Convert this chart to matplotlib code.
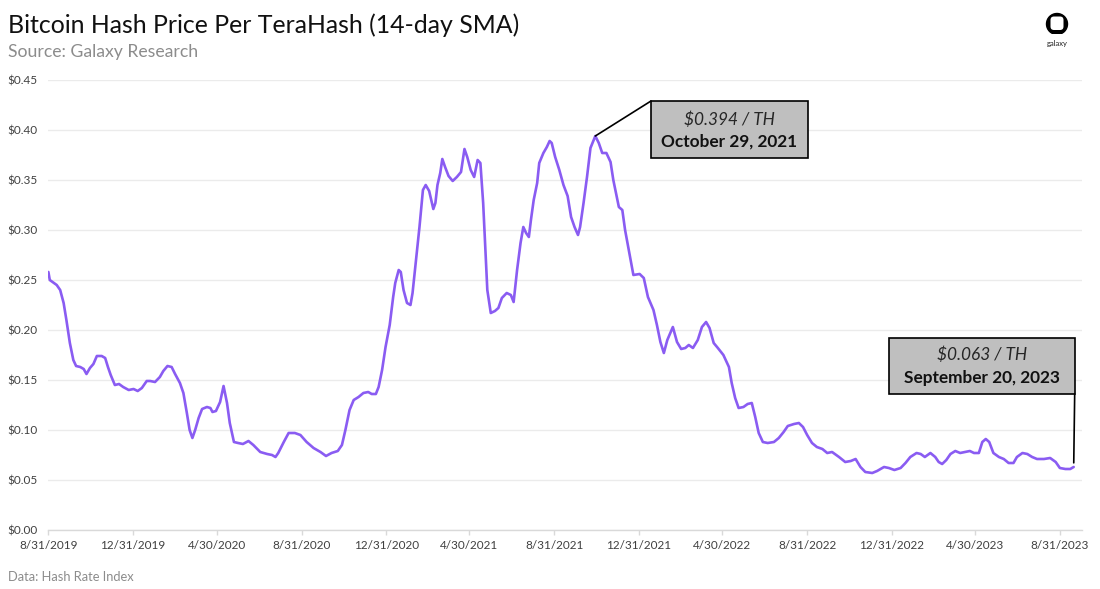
import matplotlib
matplotlib.use('Agg')
import matplotlib.pyplot as plt
import matplotlib.dates as mdates
from matplotlib.patches import Rectangle, Circle, FancyBboxPatch, ConnectionPatch
from matplotlib.ticker import FuncFormatter
import pandas as pd

plt.rcParams['font.family'] = ['Lato', 'DejaVu Sans']

# ---------------- data ----------------
START = '2019-08-31'
day_offset = [0, 2, 12, 17, 22, 26, 31, 36, 40, 46, 51, 55, 60, 65, 70, 77, 82, 86, 90, 96, 102, 108, 116, 123, 129,
              135, 142, 147, 154, 161, 166, 172, 178, 183, 190, 195, 200, 204, 208, 212, 217, 222, 229, 234, 237, 242,
              248, 253, 258, 262, 268, 274, 281,
              289, 296, 306, 316, 323, 328, 332, 340, 347, 356, 364, 373, 383, 393, 401, 409, 418, 424, 429, 435, 441,
              448, 455, 462, 467, 473, 477, 482, 487, 493, 498, 501, 506, 509, 513, 518, 523, 526, 531, 536, 541, 545,
              550, 553, 556, 559, 562, 566, 569, 573, 578,
              584, 590, 596, 601, 605, 610, 615, 620, 624, 628, 631, 634, 639, 645, 650, 655, 662, 668, 672, 677, 682,
              686, 690, 694, 697, 701, 706, 709, 715, 720, 724, 727, 732, 738, 744, 750, 755, 760, 765, 768, 773, 778,
              783, 790, 795, 800, 806, 812, 816, 824, 829, 833, 841, 845, 854, 860,
              866, 874, 879, 884, 889, 894, 902, 908, 914, 920, 925, 931, 938, 944, 950, 955, 961, 967, 975, 983, 987,
              992, 997, 1004, 1010, 1016, 1021, 1026, 1032, 1039, 1048, 1055, 1062, 1068, 1077, 1084, 1090, 1096, 1103,
              1110, 1118, 1125, 1132,
              1142, 1151, 1159, 1166, 1173, 1180, 1190, 1197, 1207, 1214, 1222, 1231, 1238, 1245, 1254, 1260, 1266,
              1274, 1281, 1286, 1291, 1297, 1303, 1310, 1317, 1324, 1331, 1337, 1344, 1349, 1354, 1359, 1365, 1373,
              1380, 1387, 1394, 1399, 1407, 1414, 1421, 1428, 1438, 1447, 1455, 1461, 1469, 1476, 1481]
hash_price = [0.258, 0.250, 0.245, 0.240, 0.227, 0.210, 0.187, 0.170, 0.164, 0.163, 0.161, 0.156, 0.162, 0.166, 0.174,
              0.174, 0.172, 0.163, 0.155, 0.145, 0.146, 0.143, 0.140, 0.141, 0.139, 0.142, 0.149, 0.149, 0.148, 0.153,
              0.159, 0.164, 0.163, 0.156, 0.147, 0.137, 0.117, 0.100, 0.092, 0.100, 0.112, 0.121, 0.123, 0.122, 0.118,
              0.119, 0.128, 0.144, 0.127, 0.107, 0.088, 0.087, 0.086,
              0.089, 0.085, 0.078, 0.076, 0.075, 0.073, 0.077, 0.088, 0.097, 0.097, 0.095, 0.088, 0.082, 0.078, 0.074,
              0.077, 0.079, 0.085, 0.100, 0.120, 0.130, 0.133, 0.137, 0.138, 0.136, 0.136, 0.143, 0.160, 0.183, 0.205,
              0.233, 0.247, 0.260, 0.258, 0.240, 0.227, 0.225, 0.237, 0.270, 0.303, 0.340, 0.345, 0.339, 0.330, 0.321,
              0.327, 0.345, 0.357, 0.371, 0.363, 0.354,
              0.349, 0.353, 0.358, 0.381, 0.373, 0.360, 0.353, 0.370, 0.367, 0.327, 0.283, 0.240, 0.217, 0.219, 0.222,
              0.232, 0.237, 0.235, 0.228, 0.260, 0.287, 0.303, 0.297, 0.293, 0.310, 0.330, 0.347, 0.367, 0.377, 0.383,
              0.389, 0.387, 0.373, 0.360, 0.345, 0.334, 0.313, 0.303, 0.295, 0.303, 0.327, 0.353, 0.382, 0.394, 0.387,
              0.377, 0.377, 0.368, 0.350, 0.323, 0.320, 0.300, 0.270, 0.255, 0.256, 0.252,
              0.233, 0.220, 0.205, 0.188, 0.177, 0.190, 0.203, 0.188, 0.181, 0.182, 0.185, 0.182, 0.190, 0.203, 0.208,
              0.202, 0.187, 0.182, 0.175, 0.163, 0.147, 0.132, 0.122, 0.123, 0.126, 0.127, 0.113, 0.097, 0.088, 0.087,
              0.088, 0.092, 0.098, 0.104, 0.106, 0.107, 0.103, 0.095, 0.087, 0.083, 0.081, 0.077, 0.078,
              0.073, 0.068, 0.069, 0.071, 0.063, 0.058, 0.057, 0.059, 0.063, 0.062, 0.060, 0.062, 0.067, 0.073, 0.077,
              0.076, 0.073, 0.077, 0.073, 0.068, 0.066, 0.070, 0.076, 0.079, 0.077, 0.078, 0.079, 0.077, 0.077, 0.088,
              0.091, 0.088, 0.077, 0.073, 0.071, 0.067, 0.067, 0.073, 0.077, 0.076, 0.073, 0.071, 0.071, 0.072, 0.068,
              0.062, 0.061, 0.061, 0.063]

x_tick_dates = ['2019-08-31', '2019-12-31', '2020-04-30', '2020-08-31', '2020-12-31', '2021-04-30', '2021-08-31',
                '2021-12-31', '2022-04-30', '2022-08-31', '2022-12-31', '2023-04-30', '2023-08-31']
x_tick_labels = ['8/31/2019', '12/31/2019', '4/30/2020', '8/31/2020', '12/31/2020', '4/30/2021', '8/31/2021',
                 '12/31/2021', '4/30/2022', '8/31/2022', '12/31/2022', '4/30/2023', '8/31/2023']
y_ticks = [0.00, 0.05, 0.10, 0.15, 0.20, 0.25, 0.30, 0.35, 0.40, 0.45]
x_min, x_max = '2019-08-31', '2023-10-02'

peak_date, peak_value, peak_text1, peak_text2 = '2021-10-29', 0.394, '\\$0.394 / TH', 'October 29, 2021'
last_date, last_value, last_text1, last_text2 = '2023-09-20', 0.063, '\\$0.063 / TH', 'September 20, 2023'

title = 'Bitcoin Hash Price Per TeraHash (14-day SMA)'
subtitle = 'Source: Galaxy Research'
footer = 'Data: Hash Rate Index'

# ---------------- figure ----------------
W, H = 1100, 589
fig = plt.figure(figsize=(W / 100, H / 100), dpi=100)
fig.patch.set_facecolor('white')


def fx(x):
    return x / W


def fy(y):
    return 1 - y / H


ax = fig.add_axes([fx(48.4), fy(530), (1082 - 48.4) / W, 450 / H])
dates = pd.Timestamp(START) + pd.to_timedelta(day_offset, unit='D')
ax.plot(dates, hash_price, color='#8a5cf2', lw=1.9, solid_joinstyle='round', solid_capstyle='round', zorder=3)

ax.set_xlim(pd.Timestamp(x_min), pd.Timestamp(x_max))
ax.set_ylim(0, 0.45)
ax.set_yticks(y_ticks)
ax.yaxis.set_major_formatter(FuncFormatter(lambda v, p: '\\$%.2f' % v))
ax.set_xticks(pd.to_datetime(x_tick_dates))
ax.set_xticklabels(x_tick_labels)

for s in ['top', 'right', 'left']:
    ax.spines[s].set_visible(False)
ax.spines['bottom'].set_color('#d9d9d9')
ax.spines['bottom'].set_linewidth(1.0)
ax.yaxis.grid(True, color='#ebebeb', lw=1.0)
ax.set_axisbelow(True)
ax.tick_params(axis='y', length=0, pad=8, labelsize=8.5, labelcolor='#404040')
ax.tick_params(axis='x', length=3.5, width=1, color='#d9d9d9', pad=3.5, labelsize=8.5, labelcolor='#404040')

# titles
fig.text(fx(8), fy(25), title, fontsize=17.9, color='#111111', va='center', ha='left')
fig.text(fx(8), fy(52), subtitle, fontsize=12.7, color='#8c8c8c', va='center', ha='left')
fig.text(fx(8), fy(577), footer, fontsize=9.3, color='#8c8c8c', va='center', ha='left')

# annotation 1 (peak)
bx1, by1, bx2, by2 = 651, 101, 808, 158
fig.add_artist(Rectangle((fx(bx1), fy(by2)), (bx2 - bx1) / W, (by2 - by1) / H, transform=fig.transFigure,
                         facecolor='#bfbfbf', edgecolor='black', lw=1.2, zorder=5))
fig.text(fx((bx1 + bx2) / 2), fy(120), peak_text1, ha='center', va='center', style='italic', fontsize=12.4,
         color='#262626', zorder=6)
fig.text(fx((bx1 + bx2) / 2), fy(142), peak_text2, ha='center', va='center', weight='bold', fontsize=12.4,
         color='#111111', zorder=6)
fig.add_artist(ConnectionPatch(xyA=(mdates.date2num(pd.Timestamp(peak_date)), peak_value), coordsA=ax.transData,
                               xyB=(bx1, H - by1), coordsB='figure pixels', color='black', lw=1.2, zorder=6))

# annotation 2 (last)
last_px = ax.transData.transform((mdates.date2num(pd.Timestamp(last_date)), last_value))
cx2, cy1, cy2 = 889, 338, 394
cx3 = last_px[0] + 1
fig.add_artist(Rectangle((fx(cx2), fy(cy2)), (cx3 - cx2) / W, (cy2 - cy1) / H, transform=fig.transFigure,
                         facecolor='#bfbfbf', edgecolor='black', lw=1.2, zorder=5))
fig.text(fx((cx2 + cx3) / 2), fy(355), last_text1, ha='center', va='center', style='italic', fontsize=12.4,
         color='#262626', zorder=6)
fig.text(fx((cx2 + cx3) / 2), fy(378), last_text2, ha='center', va='center', weight='bold', fontsize=12.4,
         color='#111111', zorder=6)
con2 = ConnectionPatch(xyA=(mdates.date2num(pd.Timestamp(last_date)), last_value), coordsA=ax.transData,
                       xyB=(cx3, H - cy2), coordsB='figure pixels', color='black', lw=1.2, zorder=6,
                       arrowstyle='-', shrinkA=3, shrinkB=0)
fig.add_artist(con2)

# logo
lax = fig.add_axes([fx(1040), fy(50), 35 / W, 42 / H])
lax.set_xlim(1040, 1075)
lax.set_ylim(50, 8)
lax.axis('off')
lax.add_patch(Circle((1057, 24), 10.5, color='black'))
lax.add_patch(FancyBboxPatch((1050.5, 16.5), 13, 13.5, boxstyle='round,pad=0,rounding_size=3.5',
                             fc='white', ec='none'))
lax.add_patch(Rectangle((1044, 33.5), 26, 4, fc='white', ec='none'))
lax.text(1057, 43.5, 'galaxy', fontsize=5.5, ha='center', va='center', color='#222222')

fig.savefig('out.png', dpi=100, facecolor='white')
